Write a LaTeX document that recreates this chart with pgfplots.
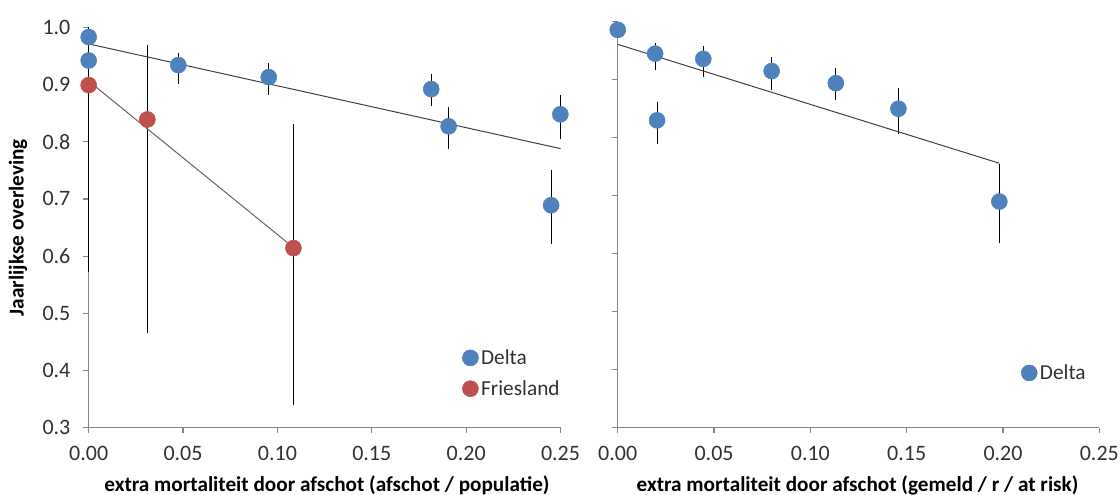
\documentclass[border=0pt]{standalone}
\usepackage{fontspec}
\setmainfont{Carlito}
\usepackage{pgfplots}
\pgfplotsset{compat=1.18}
\definecolor{dblue}{RGB}{79,129,189}
\definecolor{dred}{RGB}{192,80,77}
\definecolor{axgray}{RGB}{134,134,134}
\definecolor{txt}{RGB}{50,50,50}
\definecolor{trend}{RGB}{64,64,64}
\definecolor{trendb}{RGB}{100,100,100}
\pgfplotsset{
  myaxis/.style={
    scale only axis,
    xmin=0, xmax=0.25, ymin=0.3, ymax=1.0,
    axis x line*=bottom, axis y line*=left,
    axis line style={axgray, line width=0.9pt, -},
    xtick={0,0.05,0.1,0.15,0.2,0.25},
    ytick={0.3,0.4,0.5,0.6,0.7,0.8,0.9,1.0},
    tick align=outside, major tick length=4pt,
    tick style={axgray, line width=0.9pt},
    /pgf/number format/assume math mode=true,
    tick label style={font=\fontsize{16.5}{19}\selectfont, text=txt},
    xticklabel style={/pgf/number format/.cd, fixed, fixed zerofill, precision=2},
    yticklabel style={/pgf/number format/.cd, fixed, fixed zerofill, precision=1},
    xticklabel shift=6.5pt, yticklabel shift=6.2pt,
    label style={font=\bfseries\fontsize{15.9}{18}\selectfont, text=black},
    clip=false,
    legend style={draw=none, fill=none, font=\fontsize{16}{19}\selectfont, text=txt, anchor=west, row sep=6.5pt},
    legend cell align=left,
  },
  pts/.style={only marks, mark=*, mark size=6pt, mark options={draw=#1, fill=#1},
    error bars/.cd, y dir=both, y explicit, error mark=none,
    error bar style={black, line width=0.8pt}},
}
\begin{document}
\begin{tikzpicture}
\useasboundingbox (0,0) rectangle (840pt,-371.25pt);
% left panel
\begin{axis}[myaxis, at={(66.5pt,-320.8pt)}, anchor=south west,
  width=353.9pt, height=300.3pt,
  xlabel={extra mortaliteit door afschot (afschot / populatie)},
  ylabel={Jaarlijkse overleving},
  xlabel style={at={(axis description cs:0.505,-0.143)}, anchor=center},
  ylabel style={at={(axis description cs:-0.150,0.5)}, anchor=center},
  legend style={at={(axis description cs:0.783,0.136)}},
]
\addplot+[pts=dblue] coordinates {
 (0,0.983) +- (0,0)
 (0,0.942) +- (0,0)
 (0.0475,0.934) += (0,0.021) -= (0,0.033)
 (0.0954,0.913) += (0,0.024) -= (0,0.032)
 (0.1815,0.892) += (0,0.026) -= (0,0.030)
 (0.1907,0.827) += (0,0.033) -= (0,0.039)
 (0.2499,0.848) += (0,0.034) -= (0,0.044)
 (0.245,0.689) += (0,0.062) -= (0,0.068)
};
\addlegendentry{Delta}
\addplot+[pts=dred] coordinates {
 (0,0.899) += (0,0.101) -= (0,0.327)
 (0.0311,0.839) += (0,0.131) -= (0,0.374)
 (0.1085,0.614) += (0,0.217) -= (0,0.274)
};
\addlegendentry{Friesland}
\addplot[forget plot, no marks, color=trend, line width=0.75pt] coordinates {(0,0.971) (0.25,0.788)};
\addplot[forget plot, no marks, color=trendb, line width=0.75pt] coordinates {(0,0.906) (0.1085,0.615)};
\end{axis}
% right panel
\begin{axis}[myaxis, at={(463.3pt,-320.8pt)}, anchor=south west,
  width=361.2pt, height=304.5pt,
  yticklabels={},
  xlabel={extra mortaliteit door afschot (gemeld / r / at risk)},
  xlabel style={at={(axis description cs:0.498,-0.141)}, anchor=center},
  legend style={at={(axis description cs:0.829,0.135)}},
]
\addplot+[pts=dblue] coordinates {
 (0,0.986) +- (0,0)
 (0.0194,0.945) += (0,0.019) -= (0,0.029)
 (0.0204,0.830) += (0,0.032) -= (0,0.040)
 (0.0444,0.936) += (0,0.022) -= (0,0.032)
 (0.0799,0.915) += (0,0.024) -= (0,0.033)
 (0.1132,0.894) += (0,0.026) -= (0,0.029)
 (0.1457,0.850) += (0,0.035) -= (0,0.043)
 (0.1981,0.690) += (0,0.065) -= (0,0.071)
};
\addlegendentry{Delta}
\addplot[forget plot, no marks, color=trend, line width=0.75pt] coordinates {(0,0.961) (0.1981,0.756)};
\end{axis}
\end{tikzpicture}
\end{document}
